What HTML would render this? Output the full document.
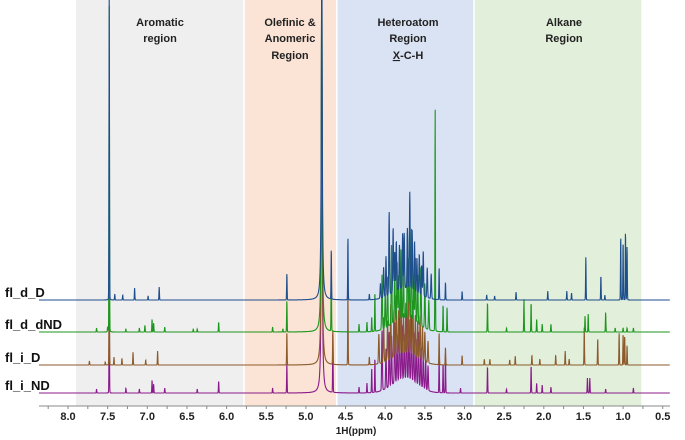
<!DOCTYPE html>
<html><head><meta charset="utf-8"><style>
body{margin:0;background:#fff;}
svg{display:block;font-family:"Liberation Sans",sans-serif;}
</style></head><body>
<svg id="chart" width="685" height="440" viewBox="0 0 685 440">
<g id="regions"></g>
<g id="titles" font-weight="bold" font-size="11" fill="#222" text-anchor="middle">
<text x="160" y="26">Aromatic</text>
<text x="160" y="42">region</text>
<text x="290" y="26">Olefinic &amp;</text>
<text x="290" y="42">Anomeric</text>
<text x="290" y="59">Region</text>
<text x="408" y="26">Heteroatom</text>
<text x="408" y="42">Region</text>
<text x="408" y="59"><tspan text-decoration="underline">X</tspan>-C-H</text>
<text x="564" y="26">Alkane</text>
<text x="564" y="42">Region</text>
</g>
<g id="spectra"></g>
<g id="labels" font-weight="bold" font-size="13" fill="#111"></g>
<g id="axis"></g>
</svg>
<script>
const xTicks=[8.0,7.5,7.0,6.5,6.0,5.5,5.0,4.5,4.0,3.5,3.0,2.5,2.0,1.5,1.0,0.5];
const regionNames=["aromatic","olefinic","heteroatom","alkane"];
const regionStart=[7.9,5.77,4.6,2.87];
const regionEnd=[5.79,4.62,2.89,0.77];
const regionColors=["#efefef","#fbe4d5","#dae3f3","#e2efda"];
const seriesNames=["fl_i_ND","fl_i_D","fl_d_dND","fl_d_D"];
const seriesColors=["#8b1a8b","#8c5a2b","#1c961c","#1f4e8c"];
const seriesBase=[393,365,332,300];
// sharp peaks (ppm, height px)
const ppm_iND=[7.64,7.48,7.27,7.1,6.94,6.92,6.78,6.37,6.1,5.42,5.24,4.80,4.66,4.33,4.23,4.17,4.13,4.04,3.99,3.95,3.92,3.88,3.85,3.82,3.79,3.76,3.73,3.70,3.67,3.64,3.61,3.58,3.55,3.52,3.49,3.46,3.32,3.27,3.24,3.05,2.71,2.47,2.16,2.09,2.02,1.91,1.45,1.42,1.22,0.87];
const h_iND=[4,90,5,4,13,9,5,4,12,5,30,400,60,6,10,25,35,60,40,55,50,62,48,74,55,45,70,60,66,50,45,55,40,35,30,25,38,30,40,5,27,4,28,10,8,6,15,15,4,5];
const ppm_iD=[7.73,7.53,7.48,7.42,7.32,7.18,7.02,6.87,5.24,4.80,4.66,4.47,4.2,4.08,4.02,3.97,3.93,3.89,3.86,3.83,3.80,3.77,3.74,3.71,3.68,3.65,3.62,3.59,3.56,3.53,3.50,3.46,3.32,3.24,3.03,2.75,2.68,2.43,2.36,2.15,2.05,1.85,1.73,1.68,1.49,1.32,1.05,1.0,0.98,0.95];
const h_iD=[4,3,120,8,7,13,5,14,33,400,35,73,8,30,45,40,55,48,62,45,58,40,50,62,48,55,42,38,45,35,30,22,33,18,10,6,6,5,9,10,6,10,14,6,38,27,33,32,30,20];
const ppm_dND=[7.64,7.5,7.48,7.27,7.1,7.03,6.94,6.92,6.78,6.42,6.37,6.1,5.42,5.29,5.24,4.80,4.68,4.33,4.23,4.17,4.13,4.04,4.00,3.97,3.92,3.88,3.85,3.83,3.80,3.77,3.72,3.70,3.67,3.64,3.62,3.59,3.55,3.50,3.45,3.37,3.27,3.22,2.71,2.47,2.25,2.16,2.09,2.02,1.91,1.48,1.44,1.22,1.1,1.0,0.95,0.87];
const h_dND=[4,5,330,3,4,7,13,9,5,3,3,10,5,3,32,400,67,8,10,15,40,55,35,50,80,55,60,45,70,55,85,60,91,40,65,50,60,45,30,225,28,25,30,4,33,30,13,8,8,16,18,20,4,4,4,4];
const ppm_dD=[7.48,7.41,7.31,7.16,6.99,6.85,5.24,4.80,4.68,4.47,4.2,4.06,4.02,3.99,3.95,3.90,3.88,3.86,3.82,3.78,3.76,3.72,3.69,3.66,3.63,3.60,3.57,3.54,3.52,3.47,3.42,3.32,3.24,3.03,2.72,2.62,2.35,1.95,1.71,1.65,1.47,1.28,1.23,1.03,1.0,0.97,0.95];
const h_dD=[310,6,5,12,4,13,27,400,51,64,6,15,30,40,83,65,40,50,45,55,55,60,97,60,50,35,40,30,45,30,25,33,18,9,5,4,8,9,9,7,43,25,5,65,60,70,55];
// broad sugar-envelope hump height per series (px)
const humpH=[14,12,14,12];
const peakPpm=[ppm_iND,ppm_iD,ppm_dND,ppm_dD];
const peakH=[h_iND,h_iD,h_dND,h_dD];

const X0=68, PX=79.3, AXY=406;
function xs(p){return X0+(8-p)*PX;}
const NS="http://www.w3.org/2000/svg";
function mk(t,a,parent){const e=document.createElementNS(NS,t);for(const k in a)e.setAttribute(k,a[k]);parent.appendChild(e);return e;}

const rg=document.getElementById('regions');
for(let i=0;i<regionNames.length;i++){
  const r=mk('rect',{x:xs(regionStart[i]),y:0,width:xs(regionEnd[i])-xs(regionStart[i]),height:AXY,fill:regionColors[i]},rg);
  
  
}

function shape(p,c,h){
  if(h>=300&&c>4.7&&c<4.9){const d=(p-c)/0.006;return h/(1+d*d);}
  const w=(c>3.4&&c<4.1)?0.0055:0.0035,d=(p-c)/w;
  return h*(0.95*Math.exp(-d*d*0.7)+0.05/(1+d*d));
}
const sg=document.getElementById('spectra');
const lg=document.getElementById('labels');
for(let s=0;s<seriesNames.length;s++){
  const P=peakPpm[s],H=peakH[s],b=seriesBase[s];
  let d='';
  for(let x=39;x<=670;x+=0.2){
    const p=8-(x-X0)/PX;
    const hd=(p-3.75)/0.22;
    let v=humpH[s]*Math.exp(-hd*hd);
    for(let k=0;k<P.length;k++) v+=shape(p,P[k],H[k]);
    let y=b-v; if(y<-5)y=-5;
    d+=(d?'L':'M')+x.toFixed(1)+','+y.toFixed(1);
  }
  const path=mk('path',{d:d,fill:'none',stroke:seriesColors[s],'stroke-width':1.1},sg);
  
  
  const t=mk('text',{x:5,y:b-3},lg); t.textContent=seriesNames[s];
  
  
}

const ax=document.getElementById('axis');
const al=mk('line',{x1:39,y1:AXY,x2:670,y2:AXY,stroke:'#888','stroke-width':1},ax);


for(let p=8.25;p>=0.4;p-=0.25){
  mk('line',{x1:xs(p),y1:AXY,x2:xs(p),y2:AXY+3,stroke:'#888'},ax);
}
for(let i=0;i<xTicks.length;i++){
  const t=mk('text',{x:xs(xTicks[i]),y:AXY+14,'text-anchor':'middle','font-size':11,'font-weight':'bold',fill:'#222'},ax);
  t.textContent=xTicks[i].toFixed(1);
  
  
}
const tt=mk('text',{x:356,y:AXY+28,'text-anchor':'middle','font-size':10,'font-weight':'bold',fill:'#222'},ax);
tt.textContent='1H(ppm)';


</script>
</body></html>
